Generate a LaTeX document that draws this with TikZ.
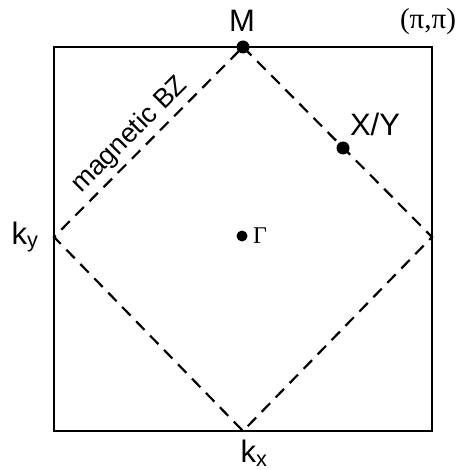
\documentclass[tikz,border=0pt]{standalone}
\usepackage{fontspec}
\setmainfont{Liberation Serif}
\setsansfont{Liberation Sans}
\usetikzlibrary{positioning}

\begin{document}
\begin{tikzpicture}[x=1pt,y=-1pt,
  dot/.style={circle,fill=black,inner sep=0pt,minimum size=13pt},
  lbl/.style={font=\fontsize{31}{31}\selectfont\sffamily,inner sep=0pt},
  bz/.style={dash pattern=on 12pt off 8pt,line width=2.2pt}]
\useasboundingbox (0,0) rectangle (467,470);
% Brillouin zone corners
\coordinate (sw) at (54,431);
\coordinate (ne) at (432,47);
\draw[line width=2.5pt] (sw) rectangle (ne);
% magnetic zone
\node[dot] (M) at (243,47) {};
\coordinate (L) at (54,237);
\coordinate (B) at (243,431);
\coordinate (R) at (432,237);
\draw[bz] (M.center) -- (R) -- (B) -- (L) -- cycle;
\node[dot] (XY) at (343,148) {};
\node[dot,minimum size=11pt] (G) at (242,236) {};
% labels
\node[lbl] (Mlab) at (242,21) {M};
\node[font=\fontsize{29}{29}\selectfont,inner sep=0pt] (pipi) at (428,22) {(π,π)};
\node[lbl] (ky) at (25,237) {k\textsubscript{y}};
\node[lbl] (kx) at (254,453) {k\textsubscript{x}};
\node[lbl] (XYlab) at (375,124) {X/Y};
\node[font=\fontsize{24}{24}\selectfont,inner sep=0pt,anchor=west] (Glab) at (253,236) {Γ};
\node[font=\fontsize{27}{27}\selectfont\sffamily,inner sep=0pt,rotate=45] (mbz) at (130,135) {magnetic BZ};
\end{tikzpicture}
\end{document}
